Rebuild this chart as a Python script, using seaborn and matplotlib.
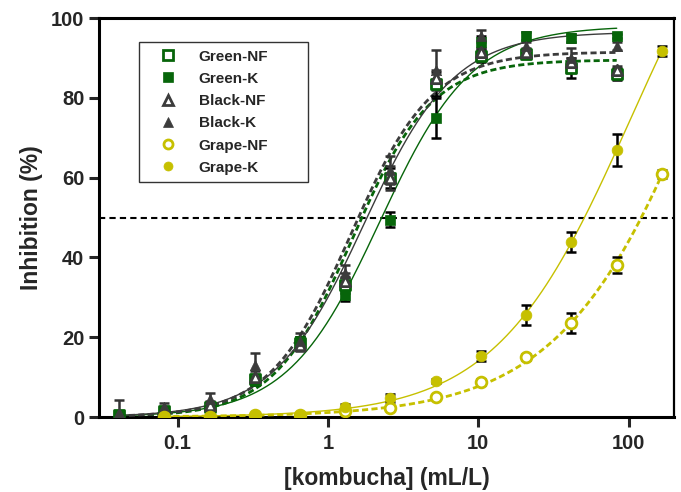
import matplotlib
matplotlib.use("Agg")
import matplotlib.pyplot as plt
from matplotlib.lines import Line2D
import numpy as np
import pandas as pd
import seaborn as sns

# concentrations (mL/L)
CONC_TEA = [0.041, 0.081, 0.163, 0.325, 0.65, 1.3, 2.6, 5.2, 10.4, 20.8, 41.6, 83.2]
CONC_GRAPE = [0.081, 0.163, 0.325, 0.65, 1.3, 2.6, 5.2, 10.4, 20.8, 41.6, 83.2, 166.4]

SERIES = ["Green-NF", "Green-K", "Black-NF", "Black-K", "Grape-NF", "Grape-K"]

green_nf = [0.5, 1.5, 2.5, 9.5, 18.5, 33, 60, 83.5, 90.5, 91, 87.5, 86]
green_k = [0.5, 1.5, 2.5, 9, 19, 30.5, 49.5, 75, 94, 95.5, 95, 95.5]
black_nf = [0.5, 2, 3, 10, 18, 34, 60, 85, 91.5, 91.5, 89, 87]
black_k = [1, 2.5, 4.5, 13, 19, 36, 62, 87, 95.5, 93, 90, 93]
grape_nf = [0, 0, 0.5, 0.5, 1.5, 2.2, 5, 8.8, 15, 23.5, 38, 61]
grape_k = [0, 0, 0.5, 0.5, 2.5, 4.7, 9, 15.3, 25.6, 43.8, 67, 91.8]

sd_green_nf = [0.5, 0.5, 1, 1, 1.5, 2, 2.5, 3, 1.5, 1, 2.5, 1.5]
sd_green_k = [0.5, 0.5, 1, 1, 1, 1.5, 2, 5, 1.5, 1, 1, 0.5]
sd_black_nf = [0.5, 0.5, 1, 1.5, 1.5, 2, 3, 2, 1, 1, 1, 1]
sd_black_k = [3.2, 1, 1.5, 3, 2, 2, 3.5, 5, 1.5, 1, 2.5, 1]
sd_grape_nf = [0.3, 0.3, 0.3, 0.3, 0.5, 0.5, 0.5, 0.7, 0.8, 2.5, 2, 1]
sd_grape_k = [0.3, 0.3, 0.3, 0.3, 0.8, 1, 0.5, 1.2, 2.5, 2.5, 4, 1.2]

# 4PL fit parameters (bottom fixed at 0)
FIT_TOP = [89.5, 98, 91.5, 96.5, 200, 150]
FIT_LOGEC50 = [0.163, 0.345, 0.152, 0.238, 2.645, 2.016]
FIT_HILL = [1.65, 1.42, 1.6, 1.45, 0.85, 0.97]

GREEN = "#07650a"
GRAY = "#3c3c3c"
YELLOW = "#c6c000"
COLORS = [GREEN, GREEN, GRAY, GRAY, YELLOW, YELLOW]
MARKERS = ["s", "s", "^", "^", "o", "o"]
FILLED = [False, True, False, True, False, True]
DASHED = [True, False, True, False, True, False]
BAR_COLORS = ["black", "black", "#333333", "#333333", "black", "black"]

sns.set_style("ticks")
plt.rcParams['font.family'] = ['Liberation Sans', 'DejaVu Sans']
plt.rcParams['font.weight'] = 'bold'


def four_pl(x, top, logc, hill):
    return top / (1 + 10 ** ((logc - np.log10(x)) * hill))


fig = plt.figure(figsize=(6.81, 4.92), dpi=100)
ax = fig.add_axes([0.1454, 0.1524, 0.8443, 0.811])

values = [green_nf, green_k, black_nf, black_k, grape_nf, grape_k]
sds = [sd_green_nf, sd_green_k, sd_black_nf, sd_black_k, sd_grape_nf, sd_grape_k]

ax.axhline(50, color="black", linestyle=(0, (3, 2)), linewidth=1.5, zorder=1)

for i, name in enumerate(SERIES):
    conc = CONC_GRAPE if i >= 4 else CONC_TEA
    xs = np.logspace(np.log10(conc[0]), np.log10(conc[-1]), 200)
    curve = pd.DataFrame({"x": xs, "y": four_pl(xs, FIT_TOP[i], FIT_LOGEC50[i], FIT_HILL[i])})
    sns.lineplot(data=curve, x="x", y="y", ax=ax, color=COLORS[i],
                 linewidth=2.0 if DASHED[i] else 1.0,
                 linestyle=(0, (2.2, 1.2)) if DASHED[i] else "-", zorder=2 + i)

for i, name in enumerate(SERIES):
    conc = CONC_GRAPE if i >= 4 else CONC_TEA
    ax.errorbar(conc, values[i], yerr=sds[i], fmt="none", ecolor=BAR_COLORS[i],
                elinewidth=1.8, capsize=3.5, capthick=1.8, zorder=10 + i)
    pts = pd.DataFrame({"x": conc, "y": values[i]})
    sns.scatterplot(data=pts, x="x", y="y", ax=ax, marker=MARKERS[i],
                    s=60 if MARKERS[i] != "^" else 55,
                    facecolor=COLORS[i] if FILLED[i] else "white",
                    edgecolor=COLORS[i], linewidth=2 if not FILLED[i] else 0.5,
                    zorder=20 + i)

ax.set_xscale("log")
ax.set_xlim(0.03, 200)
ax.set_ylim(0, 100)
ax.set_xticks([0.1, 1, 10, 100])
ax.set_xticklabels(["0.1", "1", "10", "100"])
ax.xaxis.set_minor_locator(matplotlib.ticker.NullLocator())
ax.set_yticks([0, 20, 40, 60, 80, 100])

for side in ["left", "bottom", "top", "right"]:
    ax.spines[side].set_visible(True)
    ax.spines[side].set_linewidth(2.2)
    ax.spines[side].set_color("black")
ax.spines["right"].set_linewidth(1.6)

ax.tick_params(axis="both", which="major", length=7.5, width=2.2, labelsize=14.5,
               direction="out", pad=3)
ax.tick_params(axis="x", pad=5)
for lab in ax.get_xticklabels() + ax.get_yticklabels():
    lab.set_fontweight("bold")

ax.set_xlabel("[kombucha] (mL/L)", fontsize=16.5, fontweight="bold", labelpad=10)
ax.set_ylabel("Inhibition (%)", fontsize=16.5, fontweight="bold", labelpad=6)

handles = []
for i, name in enumerate(SERIES):
    handles.append(Line2D([], [], linestyle="none", marker=MARKERS[i], markersize=6.5,
                          markerfacecolor=COLORS[i] if FILLED[i] else "white",
                          markeredgecolor=COLORS[i], markeredgewidth=2 if not FILLED[i] else 0.5,
                          label=name))
leg = ax.legend(handles=handles, loc="upper left", bbox_to_anchor=(0.0696, 0.0, 0.294, 0.94),
                mode="expand", frameon=True, fancybox=False, edgecolor="black", fontsize=11,
                handletextpad=0.6, labelspacing=0.54, borderpad=0.5, handlelength=2.8,
                borderaxespad=0)
leg.get_frame().set_linewidth(1.0)
for t in leg.get_texts():
    t.set_fontweight("bold")

fig.savefig("out.png", dpi=100)
